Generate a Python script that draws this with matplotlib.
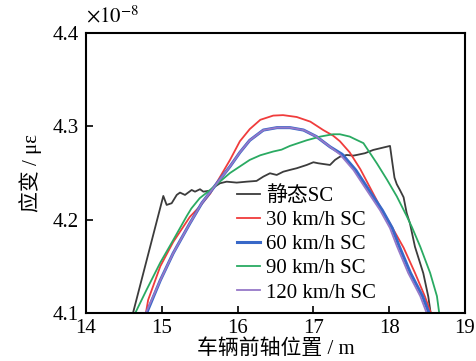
import matplotlib
matplotlib.use("Agg")
import matplotlib.pyplot as plt

plt.rcParams['font.family'] = ['Liberation Serif', 'Noto Sans CJK SC']
plt.rcParams['mathtext.fontset'] = 'stix'

# static load (values in 1e-8)
x_static = [14.62, 15.02, 15.064, 15.13, 15.197, 15.24, 15.306, 15.394, 15.438, 15.504, 15.548,
            15.636, 15.70, 15.768, 15.856, 15.988, 16.12, 16.25, 16.339, 16.427, 16.516, 16.603,
            16.691, 16.78, 16.912, 17.0, 17.065, 17.219, 17.285, 17.351, 17.44, 17.526, 17.571,
            17.681, 17.79, 18.011, 18.04, 18.07, 18.10, 18.14, 18.19, 18.231, 18.274, 18.34,
            18.45, 18.516, 18.547]
y_static = [4.100, 4.2254, 4.2158, 4.2176, 4.2265, 4.229, 4.2265, 4.2318, 4.230, 4.2326, 4.230,
            4.2311, 4.2354, 4.239, 4.2407, 4.2397, 4.2407, 4.2415, 4.2461, 4.2497, 4.2479, 4.2514,
            4.2533, 4.2551, 4.2586, 4.2615, 4.2604, 4.2586, 4.264, 4.2675, 4.2693, 4.2686, 4.2693,
            4.2712, 4.2747, 4.279, 4.262, 4.245, 4.238, 4.232, 4.224, 4.207, 4.196, 4.171,
            4.1426, 4.1175, 4.100]

x_30 = [14.79, 14.82, 14.98, 15.15, 15.37, 15.50, 15.64, 15.77, 15.90, 16.03, 16.16, 16.30,
        16.47, 16.60, 16.78, 16.96, 17.13, 17.26, 17.35, 17.48, 17.62, 17.75, 17.88, 18.01,
        18.19, 18.34, 18.47, 18.55]
y_30 = [4.100, 4.114, 4.150, 4.176, 4.203, 4.214, 4.228, 4.246, 4.264, 4.284, 4.297, 4.307,
        4.3115, 4.312, 4.310, 4.305, 4.296, 4.290, 4.284, 4.272, 4.254, 4.234, 4.214, 4.196,
        4.170, 4.143, 4.118, 4.100]

x_60 = [14.80, 14.98, 15.15, 15.37, 15.53, 15.68, 15.90, 16.03, 16.16, 16.34, 16.52, 16.69,
        16.87, 17.04, 17.22, 17.38, 17.56, 17.73, 17.91, 18.04, 18.13, 18.28, 18.44, 18.525]
y_60 = [4.100, 4.135, 4.164, 4.196, 4.218, 4.234, 4.257, 4.272, 4.285, 4.296, 4.2986, 4.2986,
        4.296, 4.289, 4.278, 4.270, 4.253, 4.232, 4.210, 4.191, 4.172, 4.143, 4.118, 4.100]

x_90 = [14.65, 14.80, 14.98, 15.15, 15.33, 15.39, 15.50, 15.64, 15.77, 15.90, 16.03, 16.16,
        16.30, 16.47, 16.58, 16.69, 16.91, 17.09, 17.26, 17.35, 17.48, 17.53, 17.66, 17.75,
        17.84, 17.97, 18.10, 18.23, 18.30, 18.41, 18.54, 18.63, 18.66]
y_90 = [4.100, 4.125, 4.154, 4.178, 4.204, 4.212, 4.223, 4.232, 4.241, 4.250, 4.257, 4.264,
        4.269, 4.273, 4.275, 4.279, 4.285, 4.289, 4.2915, 4.2915, 4.289, 4.287, 4.282, 4.271,
        4.260, 4.243, 4.225, 4.204, 4.192, 4.171, 4.143, 4.118, 4.100]

x_120 = [14.79, 14.98, 15.15, 15.37, 15.53, 15.68, 15.90, 16.03, 16.16, 16.34, 16.52, 16.69,
         16.87, 17.04, 17.22, 17.35, 17.53, 17.70, 17.88, 18.01, 18.10, 18.25, 18.41, 18.494]
y_120 = [4.100, 4.135, 4.164, 4.196, 4.218, 4.234, 4.257, 4.272, 4.285, 4.296, 4.2986, 4.2986,
         4.296, 4.289, 4.278, 4.270, 4.253, 4.232, 4.210, 4.191, 4.172, 4.143, 4.118, 4.100]

labels = ['静态SC', '30 km/h SC', '60 km/h SC', '90 km/h SC', '120 km/h SC']

fig = plt.figure(figsize=(4.77, 3.61), dpi=100)
ax = fig.add_axes([0.1803, 0.133, 0.7945, 0.7756])

ax.plot(x_static, y_static, color='#3c3c3c', lw=1.3, label=labels[0])
ax.plot(x_30, y_30, color='#f03c3c', lw=1.3, label=labels[1])
ax.plot(x_60, y_60, color='#3868c8', lw=2.2, label=labels[2])
ax.plot(x_90, y_90, color='#2aaa62', lw=1.3, label=labels[3])
ax.plot(x_120, y_120, color='#9678c8', lw=1.3, label=labels[4])

ax.set_xlim(14, 19)
ax.set_ylim(4.1, 4.4)
ax.set_xticks([14, 15, 16, 17, 18, 19])
ax.set_yticks([4.1, 4.2, 4.3, 4.4])
ax.tick_params(direction='in', length=5, width=1.2, labelsize=15, top=False, right=False)
ax.tick_params(axis='y', pad=5)
ax.tick_params(axis='x', pad=4)
for s in ax.spines.values():
    s.set_linewidth(1.5)

ax.set_xlabel('车辆前轴位置 / m', fontsize=15, labelpad=1)
ax.set_ylabel('应变 / με', fontsize=15, labelpad=8)
ax.text(0.0, 1.02, r'$\times10^{-8}$', transform=ax.transAxes, fontsize=15, va='bottom', ha='left')

ax.legend(loc='lower left', bbox_to_anchor=(0.37, 0.0), frameon=False, fontsize=15,
          handlelength=1.1, handletextpad=0.3, labelspacing=0.22, borderaxespad=0.1)

fig.savefig('out.png', dpi=100)
